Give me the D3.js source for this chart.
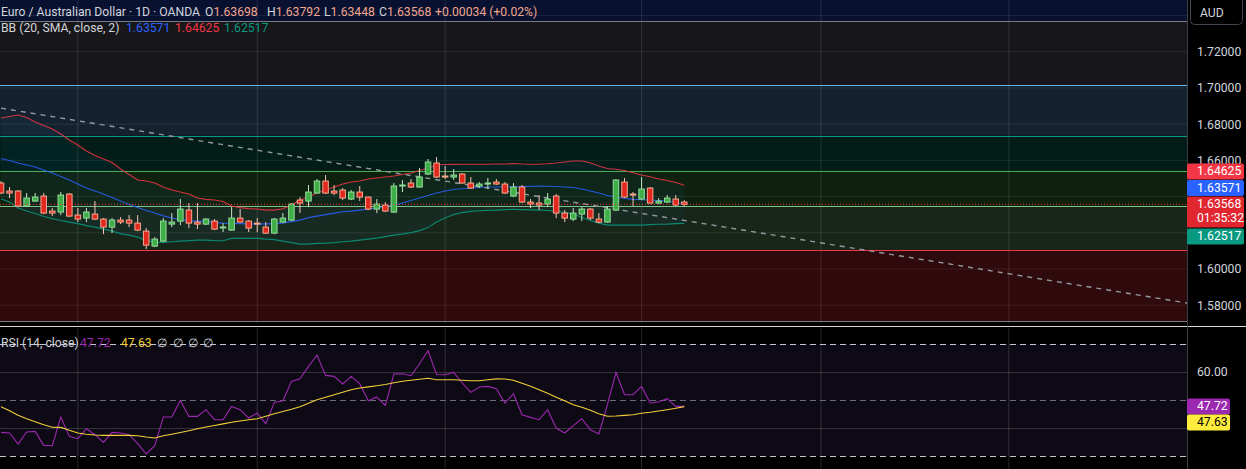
<!DOCTYPE html>
<html>
<head>
<meta charset="utf-8">
<script src="https://cdn.jsdelivr.net/npm/d3@7"></script>
<style>
  html, body { margin: 0; padding: 0; background: #000; overflow: hidden; }
  svg { display: block; font-family: Roboto, "Liberation Sans", sans-serif; }
</style>
</head>
<body>
<div id="chart"></div>
<script>
// Daily EUR/AUD candles (OANDA)
const opens = [1.64746,1.64304,1.64304,1.63474,1.63751,1.64027,1.63198,1.63143,1.64138,1.62977,
  1.62811,1.63032,1.62756,1.62313,1.62700,1.62700,1.62534,1.62092,1.61262,1.61539,
  1.62479,1.62645,1.63253,1.62590,1.62479,1.62645,1.62300,1.62147,1.62811,1.62645,
  1.62534,1.62313,1.61981,1.62590,1.62700,1.63806,1.63751,1.64193,1.64857,1.64304,
  1.64359,1.63862,1.64249,1.63972,1.63309,1.63530,1.63143,1.64620,1.64746,1.64525,
  1.65244,1.65852,1.65133,1.65078,1.65244,1.64746,1.64580,1.64730,1.64801,1.64691,
  1.64027,1.64525,1.63696,1.63640,1.63585,1.64027,1.63087,1.62756,1.63032,1.63309,
  1.62756,1.62590,1.63253,1.64801,1.64138,1.63862,1.64470,1.63640,1.63696,1.63862,1.63698];
const highs = [1.64857,1.64525,1.64359,1.64193,1.64193,1.64193,1.63364,1.64249,1.64193,1.63364,
  1.63364,1.63751,1.62811,1.62811,1.62866,1.62977,1.62977,1.62258,1.61760,1.62811,
  1.63087,1.63862,1.63640,1.63640,1.62811,1.62756,1.62534,1.63419,1.63309,1.62700,
  1.62811,1.62590,1.62811,1.63087,1.63640,1.63972,1.64636,1.64967,1.65189,1.64636,
  1.64470,1.64359,1.64580,1.63990,1.63862,1.63696,1.64746,1.64912,1.64967,1.65576,
  1.66073,1.66183,1.65686,1.65520,1.65299,1.65078,1.64801,1.65023,1.64967,1.64801,
  1.64746,1.64636,1.63862,1.64083,1.64193,1.64138,1.63253,1.63364,1.63419,1.63364,
  1.63087,1.63474,1.64967,1.65023,1.64249,1.65078,1.64525,1.63917,1.64083,1.64083,1.63792];
const lows = [1.64138,1.63917,1.63419,1.63419,1.63696,1.63032,1.62921,1.62977,1.62866,1.62590,
  1.62590,1.62700,1.61926,1.61981,1.62479,1.62313,1.62092,1.61097,1.61207,1.61484,
  1.62313,1.62424,1.62258,1.62203,1.62424,1.62147,1.62037,1.62120,1.62560,1.62037,
  1.62037,1.61926,1.61926,1.62560,1.62645,1.63087,1.63419,1.64160,1.64138,1.64083,
  1.63806,1.63806,1.63751,1.63253,1.63087,1.63143,1.63087,1.64249,1.64470,1.64500,
  1.65189,1.65023,1.64967,1.64912,1.64720,1.64414,1.64470,1.64414,1.64636,1.64138,
  1.63972,1.63640,1.63364,1.63253,1.63419,1.62811,1.62590,1.62645,1.62645,1.62700,
  1.62534,1.62560,1.63198,1.63917,1.63474,1.63806,1.63620,1.63585,1.63640,1.63474,1.63448];
const closes = [1.64193,1.64193,1.63474,1.63917,1.63972,1.63087,1.63087,1.64083,1.62921,1.62756,
  1.63143,1.62756,1.62313,1.62700,1.62590,1.62534,1.62147,1.61318,1.61650,1.62645,
  1.62590,1.63309,1.62534,1.62479,1.62756,1.62203,1.62320,1.62811,1.62590,1.62258,
  1.62479,1.61981,1.62756,1.62811,1.63585,1.63640,1.64249,1.64857,1.64193,1.64193,
  1.63917,1.64249,1.63972,1.63309,1.63585,1.63198,1.64580,1.64636,1.64525,1.65078,
  1.65907,1.65078,1.65078,1.65189,1.64746,1.64470,1.64691,1.64746,1.64691,1.64193,
  1.64525,1.63696,1.63585,1.63530,1.63862,1.63087,1.62811,1.63087,1.63309,1.62811,
  1.62590,1.63309,1.64912,1.63972,1.64120,1.64414,1.63640,1.63751,1.63917,1.63534,1.63568];

// Bollinger Bands (20, SMA, close, 2)
const bbUpper = [1.68338,1.68421,1.68504,1.68366,1.68117,1.67924,1.67731,1.67454,1.67123,1.66846,
  1.66515,1.66266,1.66073,1.65880,1.65520,1.65216,1.64912,1.64857,1.64746,1.64525,
  1.64359,1.64249,1.64138,1.63917,1.63846,1.63806,1.63723,1.63474,1.63391,1.63336,
  1.63309,1.63253,1.63253,1.63325,1.63530,1.63806,1.63972,1.64193,1.64359,1.64525,
  1.64691,1.64801,1.64857,1.64967,1.65023,1.65078,1.65133,1.65216,1.65299,1.65437,
  1.65576,1.65742,1.65769,1.65780,1.65786,1.65786,1.65786,1.65786,1.65797,1.65797,
  1.65824,1.65797,1.65786,1.65786,1.65808,1.65852,1.65907,1.65963,1.65963,1.65869,
  1.65686,1.65548,1.65504,1.65437,1.65316,1.65189,1.65095,1.64967,1.64884,1.64774,1.64625];
const bbBasis = [1.66100,1.65990,1.65852,1.65742,1.65631,1.65465,1.65299,1.65106,1.64912,1.64691,
  1.64470,1.64304,1.64138,1.63945,1.63751,1.63558,1.63391,1.63226,1.63087,1.62933,
  1.62811,1.62728,1.62673,1.62645,1.62617,1.62573,1.62534,1.62518,1.62507,1.62490,
  1.62479,1.62490,1.62507,1.62534,1.62617,1.62700,1.62838,1.62921,1.63004,1.63087,
  1.63159,1.63198,1.63253,1.63309,1.63364,1.63447,1.63530,1.63640,1.63779,1.63917,
  1.64055,1.64193,1.64304,1.64387,1.64431,1.64470,1.64497,1.64525,1.64525,1.64536,
  1.64542,1.64553,1.64564,1.64580,1.64569,1.64553,1.64525,1.64497,1.64414,1.64304,
  1.64193,1.64055,1.63972,1.63889,1.63845,1.63823,1.63806,1.63779,1.63751,1.63660,1.63571];
const bbLower = [1.63862,1.63696,1.63364,1.63198,1.63060,1.62894,1.62783,1.62673,1.62590,1.62507,
  1.62396,1.62313,1.62203,1.62092,1.61954,1.61871,1.61760,1.61567,1.61484,1.61467,
  1.61500,1.61539,1.61567,1.61594,1.61594,1.61567,1.61556,1.61689,1.61689,1.61689,
  1.61689,1.61650,1.61622,1.61539,1.61456,1.61373,1.61373,1.61412,1.61428,1.61456,
  1.61500,1.61539,1.61594,1.61650,1.61705,1.61788,1.61871,1.61926,1.62009,1.62120,
  1.62285,1.62590,1.62811,1.63004,1.63115,1.63181,1.63214,1.63236,1.63253,1.63281,
  1.63292,1.63281,1.63264,1.63253,1.63226,1.63198,1.63115,1.63032,1.62838,1.62673,
  1.62534,1.62424,1.62424,1.62424,1.62424,1.62424,1.62451,1.62468,1.62479,1.62507,1.62517];

// RSI (14, close) and its moving average
const rsiValues = [38.43,38.21,34.29,38.57,38.79,33.79,33.68,43.93,37.00,36.18,
  39.75,37.61,34.86,38.43,38.21,37.61,34.39,30.71,33.68,43.93,
  43.93,49.86,44.14,44.14,46.54,42.96,42.96,47.71,46.54,43.57,
  45.36,41.54,49.14,49.75,56.64,57.61,62.00,66.07,58.79,58.43,
  55.71,58.43,55.82,49.75,51.07,48.07,59.29,59.39,58.68,62.96,
  67.61,59.10,59.04,59.86,56.07,52.71,54.64,54.86,54.04,48.93,
  52.25,44.75,43.79,42.96,46.54,40.00,38.21,40.82,43.32,39.39,
  37.86,48.32,59.86,51.89,51.89,54.86,48.93,49.39,50.46,47.71,47.72];
const rsiMa = [47.61,46.18,44.57,43.32,42.25,41.18,40.29,40.21,39.21,38.21,
  37.79,37.50,37.36,37.36,37.36,37.36,37.25,36.79,36.43,37.25,
  37.79,38.39,39.04,39.75,40.36,40.89,41.46,42.07,42.50,42.96,
  43.32,44.21,45.11,45.89,46.71,47.61,48.86,50.11,51.00,51.89,
  52.79,53.68,54.29,54.68,55.11,55.54,56.18,56.71,57.07,57.43,
  57.79,57.25,57.25,57.25,57.07,56.89,56.89,57.25,57.54,57.50,
  57.07,56.00,54.93,53.68,52.43,51.00,49.75,48.32,47.43,46.36,
  45.11,44.21,44.29,44.50,44.75,45.29,45.64,46.07,46.54,47.07,47.63];

// Fibonacci retracement drawing
const fibLow = 1.57123, fibHigh = 1.73697;
const fibLevels = [0, 0.236, 0.382, 0.5, 0.618, 0.786, 1, 1.618];
const fibColors = ["#787b86", "#f23645", "#81c784", "#4caf50", "#089981", "#64b5f6", "#787b86", "#2962ff"];

// dashed trend line: [bar index, price]
const trendLine = [[0, 1.68882], [138.9, 1.58117]];

const priceTicks = [1.56, 1.58, 1.60, 1.62, 1.64, 1.66, 1.68, 1.70, 1.72, 1.74];
const priceLabels = [1.58, 1.60, 1.62, 1.64, 1.66, 1.68, 1.70, 1.72];
const rsiGrid = [40, 60];
const rsiBands = [70, 50, 30];
const monthBars = [9, 30, 52, 75, 96, 118];

// layout
const W = 1246, H = 469;
const plotRight = 1187;
const mainBottom = 324;
const rsiTop = 328;
const fs = 12.2;

const svg = d3.select("#chart").append("svg")
  .attr("width", W)
  .attr("height", H);

svg.append("rect").attr("width", W).attr("height", H).attr("fill", "#000");

const defs = svg.append("defs");
defs.append("clipPath").attr("id", "clipMain")
  .append("rect").attr("x", 0).attr("y", 0).attr("width", plotRight).attr("height", mainBottom);
defs.append("clipPath").attr("id", "clipRsi")
  .append("rect").attr("x", 0).attr("y", rsiTop).attr("width", plotRight).attr("height", H - rsiTop);

const x = d3.scaleLinear().domain([0, 80]).range([1, 684.3]);
const y = d3.scaleLinear().domain([1.58, 1.72]).range([305.2, 51.7]);
const yRsi = d3.scaleLinear().domain([30, 70]).range([456, 344]);

const idx = d3.range(closes.length);
const last = closes.length - 1;
const fibPrice = lv => fibLow + (fibHigh - fibLow) * lv;

// ---------- main pane ----------
const main = svg.append("g").attr("clip-path", "url(#clipMain)");

// grid
main.selectAll(".hgrid").data(priceTicks).join("line")
  .attr("x1", 0).attr("x2", plotRight)
  .attr("y1", d => y(d)).attr("y2", d => y(d))
  .attr("stroke", "rgba(255,255,255,0.09)");
main.selectAll(".vgrid").data(monthBars).join("line")
  .attr("x1", d => x(d)).attr("x2", d => x(d))
  .attr("y1", 0).attr("y2", mainBottom)
  .attr("stroke", "rgba(255,255,255,0.13)");

// fib bands and levels
main.selectAll(".fibband").data(d3.range(fibLevels.length - 1)).join("rect")
  .attr("x", 0).attr("width", plotRight)
  .attr("y", k => y(fibPrice(fibLevels[k + 1])))
  .attr("height", k => y(fibPrice(fibLevels[k])) - y(fibPrice(fibLevels[k + 1])))
  .attr("fill", k => fibColors[k + 1])
  .attr("fill-opacity", 0.19);
main.selectAll(".fibline").data(fibLevels).join("line")
  .attr("x1", 0).attr("x2", plotRight)
  .attr("y1", d => Math.round(y(fibPrice(d))) + 0.5)
  .attr("y2", d => Math.round(y(fibPrice(d))) + 0.5)
  .attr("stroke", (d, k) => fibColors[k])
  .attr("stroke-width", 1.2);

// Bollinger bands
main.append("path")
  .attr("d", d3.area().x(i => x(i)).y0(i => y(bbLower[i])).y1(i => y(bbUpper[i]))(idx))
  .attr("fill", "#2196f3").attr("fill-opacity", 0.05);
const bbLine = arr => d3.line().x(i => x(i)).y(i => y(arr[i]))(idx);
[[bbUpper, "#f23645"], [bbBasis, "#2962ff"], [bbLower, "#089981"]].forEach(([arr, c]) => {
  main.append("path").attr("d", bbLine(arr))
    .attr("fill", "none").attr("stroke", c).attr("stroke-width", 1.1).attr("stroke-opacity", 0.85);
});

// trend line
main.append("line")
  .attr("x1", x(trendLine[0][0])).attr("y1", y(trendLine[0][1]))
  .attr("x2", x(trendLine[1][0])).attr("y2", y(trendLine[1][1]))
  .attr("stroke", "#9598a1").attr("stroke-width", 1.4)
  .attr("stroke-dasharray", "5,5");

// candles
const upFill = "#3fae49", upEdge = "#94dc9a", upWick = "#c2e6c4";
const dnFill = "#e0281f", dnEdge = "#f6a88f", dnWick = "#f5c6b8";
const candles = main.selectAll(".candle").data(idx).join("g");
candles.append("line")
  .attr("x1", i => x(i)).attr("x2", i => x(i))
  .attr("y1", i => y(highs[i])).attr("y2", i => y(lows[i]))
  .attr("stroke", i => closes[i] >= opens[i] ? upWick : dnWick)
  .attr("stroke-width", 1);
candles.append("rect")
  .attr("x", i => x(i) - 2.75)
  .attr("width", 5.5)
  .attr("y", i => y(Math.max(opens[i], closes[i])))
  .attr("height", i => Math.max(Math.abs(y(opens[i]) - y(closes[i])), 1))
  .attr("fill", i => closes[i] >= opens[i] ? upFill : dnFill)
  .attr("stroke", i => closes[i] >= opens[i] ? upEdge : dnEdge)
  .attr("stroke-width", 1);

// last price line
main.append("line")
  .attr("x1", 0).attr("x2", plotRight)
  .attr("y1", y(closes[last])).attr("y2", y(closes[last]))
  .attr("stroke", "#f23645").attr("stroke-width", 1)
  .attr("stroke-dasharray", "1,2");

// ---------- RSI pane ----------
function y0r(v) { return Math.round(yRsi(v)) + 0.5; }
const rsi = svg.append("g").attr("clip-path", "url(#clipRsi)");
rsi.append("rect")
  .attr("x", 0).attr("width", plotRight)
  .attr("y", yRsi(70)).attr("height", yRsi(30) - yRsi(70))
  .attr("fill", "#7e57c2").attr("fill-opacity", 0.11);
rsi.selectAll(".rgrid").data(rsiGrid).join("line")
  .attr("x1", 0).attr("x2", plotRight)
  .attr("y1", d => y0r(d)).attr("y2", d => y0r(d))
  .attr("stroke", "rgba(255,255,255,0.16)");
rsi.selectAll(".rvgrid").data(monthBars).join("line")
  .attr("x1", d => x(d)).attr("x2", d => x(d))
  .attr("y1", rsiTop).attr("y2", H)
  .attr("stroke", "rgba(255,255,255,0.15)");
rsi.selectAll(".rband").data(rsiBands).join("line")
  .attr("x1", 0).attr("x2", plotRight)
  .attr("y1", d => y0r(d)).attr("y2", d => y0r(d))
  .attr("stroke", d => d === 50 ? "#6a6d78" : "#c3c5cc")
  .attr("stroke-dasharray", "6,4");
rsi.append("path")
  .attr("d", d3.line().x(i => x(i)).y(i => yRsi(rsiValues[i]))(idx))
  .attr("fill", "none").attr("stroke", "#9c27b0").attr("stroke-width", 1.1);
rsi.append("path")
  .attr("d", d3.line().x(i => x(i)).y(i => yRsi(rsiMa[i]))(idx))
  .attr("fill", "none").attr("stroke", "#f2cf3a").attr("stroke-width", 1.1);

// pane separator and axis border
svg.append("line").attr("x1", 0).attr("x2", W).attr("y1", 326.5).attr("y2", 326.5)
  .attr("stroke", "#d6d7db").attr("stroke-width", 1);
svg.append("line").attr("x1", plotRight + 0.5).attr("x2", plotRight + 0.5).attr("y1", 0).attr("y2", H)
  .attr("stroke", "#3a3d46");

// ---------- legends ----------
const fmt5 = d3.format(".5f");
const fmt2 = d3.format(".2f");
const txt = "#d1d4dc";
const ohlcColor = "#f2a58e";

const header = svg.append("g").attr("font-size", fs);
header.append("text").attr("x", 1).attr("y", 16).attr("fill", txt).text("Euro / Australian Dollar · 1D · OANDA");
[["O", opens[last], 205], ["H", highs[last], 267], ["L", lows[last], 324], ["C", closes[last], 379]].forEach(([k, v, px]) => {
  const t = header.append("text").attr("x", px).attr("y", 16);
  t.append("tspan").attr("fill", txt).text(k);
  t.append("tspan").attr("fill", ohlcColor).text(fmt5(v));
});
const chg = closes[last] - closes[last - 1];
const sign = chg >= 0 ? "+" : "";
header.append("text").attr("x", 435).attr("y", 16).attr("fill", ohlcColor)
  .text(`${sign}${fmt5(chg)} (${sign}${fmt2(chg / closes[last - 1] * 100)}%)`);

const bbLegend = svg.append("g").attr("font-size", fs);
bbLegend.append("text").attr("x", 1).attr("y", 32).attr("fill", txt).text("BB (20, SMA, close, 2)");
[[bbBasis[last], "#2962ff", 126], [bbUpper[last], "#f23645", 175], [bbLower[last], "#089981", 224]].forEach(([v, c, px]) => {
  bbLegend.append("text").attr("x", px).attr("y", 32).attr("fill", c).text(fmt5(v));
});

const rsiLegend = svg.append("g").attr("font-size", fs);
rsiLegend.append("text").attr("x", 1).attr("y", 347).attr("fill", txt).text("RSI (14, close)");
rsiLegend.append("text").attr("x", 80).attr("y", 347).attr("fill", "#9c27b0").text(fmt2(rsiValues[last]));
rsiLegend.append("text").attr("x", 121).attr("y", 347).attr("fill", "#f2cf3a").text(fmt2(rsiMa[last]));
[157, 173, 188, 203].forEach(px => rsiLegend.append("text").attr("x", px).attr("y", 347).attr("fill", txt).text("∅"));

// ---------- value labels on the scale, stacked around the last price ----------
const boxW = 57, boxH = 16;
const closeTop = y(closes[last]) - 8;
const closeH = 31;
const valueBoxes = [];
let limit = closeTop;
[[bbBasis[last], "#2962ff"], [bbUpper[last], "#f23645"]].forEach(([v, c]) => {
  const top = Math.min(y(v) - boxH / 2, limit - boxH - 0.5);
  valueBoxes.push({ v, c, top, h: boxH });
  limit = top;
});
valueBoxes.push({ v: bbLower[last], c: "#089981", top: Math.max(y(bbLower[last]) - boxH / 2, closeTop + closeH + 1), h: boxH });
const closeBox = { v: closes[last], c: "#e0262f", top: closeTop, h: closeH };

const rsiTopBox = yRsi(rsiValues[last]) - 8;
const rsiBoxes = [
  { v: rsiValues[last], c: "#9c27b0", fg: "#fff", top: rsiTopBox, h: 16 },
  { v: rsiMa[last], c: "#ffeb3b", fg: "#000", top: Math.max(yRsi(rsiMa[last]) - 8, rsiTopBox + 16), h: 16 }
];

// a scale label whose centre falls inside a value box is hidden, as on the platform
const covered = (py, boxes) => boxes.some(b => py > b.top && py < b.top + b.h);

const axisG = svg.append("g").attr("transform", `translate(${plotRight},0)`)
  .call(d3.axisRight(y)
    .tickValues(priceLabels.filter(p => !covered(y(p), valueBoxes.concat([closeBox]))))
    .tickFormat(fmt5).tickSize(0).tickPadding(10));
axisG.select(".domain").remove();
axisG.selectAll("text").attr("fill", txt).attr("font-size", fs).attr("font-family", "Roboto, sans-serif");

const rsiAxisG = svg.append("g").attr("transform", `translate(${plotRight},0)`)
  .call(d3.axisRight(yRsi)
    .tickValues(rsiGrid.filter(v => !covered(yRsi(v), rsiBoxes)))
    .tickFormat(fmt2).tickSize(0).tickPadding(10));
rsiAxisG.select(".domain").remove();
rsiAxisG.selectAll("text").attr("fill", txt).attr("font-size", fs).attr("font-family", "Roboto, sans-serif");

// currency box
svg.append("rect").attr("x", 1190.5).attr("y", -4).attr("width", 52).attr("height", 28.5)
  .attr("rx", 4).attr("fill", "#000").attr("stroke", "#434651");
svg.append("text").attr("x", 1200).attr("y", 17).attr("font-size", fs).attr("fill", txt).text("AUD");

const scaleLabels = svg.append("g").attr("font-size", fs);
valueBoxes.forEach(l => {
  scaleLabels.append("rect").attr("x", plotRight).attr("y", l.top).attr("width", boxW).attr("height", l.h)
    .attr("rx", 2).attr("fill", l.c);
  scaleLabels.append("text").attr("x", plotRight + 10).attr("y", l.top + 12).attr("fill", "#fff").text(fmt5(l.v));
});
scaleLabels.append("rect").attr("x", plotRight).attr("y", closeBox.top).attr("width", boxW).attr("height", closeBox.h)
  .attr("rx", 2).attr("fill", closeBox.c);
scaleLabels.append("text").attr("x", plotRight + 10).attr("y", closeBox.top + 12).attr("fill", "#fff").text(fmt5(closeBox.v));
scaleLabels.append("text").attr("x", plotRight + 10).attr("y", closeBox.top + 26).attr("fill", "#fff").text("01:35:32");

rsiBoxes.forEach(b => {
  scaleLabels.append("rect").attr("x", plotRight).attr("y", b.top).attr("width", 43).attr("height", b.h)
    .attr("rx", 2).attr("fill", b.c);
  scaleLabels.append("text").attr("x", plotRight + 10).attr("y", b.top + 12).attr("fill", b.fg).text(fmt2(b.v));
});
</script>
</body>
</html>
